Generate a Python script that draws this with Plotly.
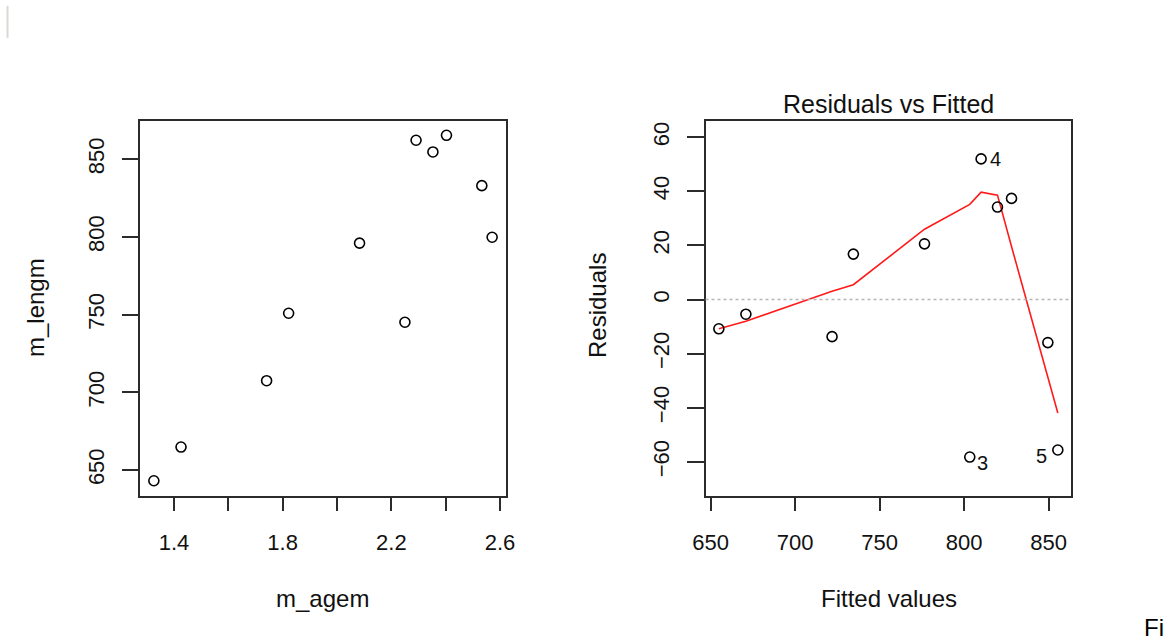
import plotly.graph_objects as go

# ---- data ----
agem = [1.326, 1.426, 1.741, 1.822, 2.083, 2.250, 2.291, 2.353, 2.403, 2.533, 2.571]
lengm = [643.1, 664.8, 707.5, 750.9, 796.0, 745.1, 862.2, 854.7, 865.4, 833.0, 799.8]

fitted = [654.9, 670.9, 721.9, 734.5, 776.6, 803.4, 810.1, 819.8, 828.1, 849.6, 855.5]
resid = [-10.8, -5.4, -13.7, 16.8, 20.6, -58.2, 52.0, 34.2, 37.4, -15.9, -55.6]
smooth = [-10.8, -8.0, 3.1, 5.5, 26.0, 35.2, 39.7, 38.6, 19.6, -29.0, -41.9]

# labelled observations
obs_labels = ["3", "4", "5"]
obs_fitted = [803.4, 810.1, 855.5]
obs_resid = [-58.2, 52.0, -55.6]

x1_ticks = [1.4, 1.6, 1.8, 2.0, 2.2, 2.4, 2.6]
x1_text = ["1.4", "", "1.8", "", "2.2", "", "2.6"]
y1_ticks = [650, 700, 750, 800, 850]
x2_ticks = [650, 700, 750, 800, 850]
y2_ticks = [-60, -40, -20, 0, 20, 40, 60]

W, H = 1175, 643
FONT = "Liberation Sans, Arial, sans-serif"
INK = "#111111"
AX = "#2b2b2b"


def px(x):
    return x / W


def py(y):
    return 1 - y / H


fig = go.Figure()

fig.add_trace(go.Scatter(
    x=agem, y=lengm, mode="markers", xaxis="x", yaxis="y",
    marker=dict(symbol="circle-open", size=10, color="black", line=dict(width=1.6)),
    showlegend=False, hoverinfo="x+y"))

fig.add_trace(go.Scatter(
    x=fitted, y=smooth, mode="lines", xaxis="x2", yaxis="y2",
    line=dict(color="#ff1a1a", width=1.6), showlegend=False))

fig.add_trace(go.Scatter(
    x=fitted, y=resid, mode="markers", xaxis="x2", yaxis="y2",
    marker=dict(symbol="circle-open", size=10, color="black", line=dict(width=1.6)),
    showlegend=False, hoverinfo="x+y"))

axis_common = dict(
    showgrid=False, zeroline=False, showline=True, mirror=True, automargin=False,
    linecolor=AX, linewidth=1.6, ticks="outside", tickcolor=AX, tickwidth=1.6,
    tickfont=dict(family=FONT, size=22, color=INK),
)

fig.update_layout(
    width=W, height=H,
    margin=dict(l=0, r=0, t=0, b=0, autoexpand=False),
    paper_bgcolor="white", plot_bgcolor="white",
    font=dict(family=FONT, color=INK),
    xaxis=dict(domain=[px(140), px(506)], range=[1.275, 2.622], anchor="y",
               tickmode="array", tickvals=x1_ticks, ticktext=x1_text,
               ticklen=13, ticklabelstandoff=13, **axis_common),
    yaxis=dict(domain=[py(496), py(121)], range=[633.3, 874.6], anchor="x",
               tickmode="array", tickvals=y1_ticks, tickangle=-90,
               ticklen=16, ticklabelstandoff=9, **axis_common),
    xaxis2=dict(domain=[px(705.5), px(1071)], range=[647.0, 863.3], anchor="y2",
                tickmode="array", tickvals=x2_ticks,
                ticklen=13, ticklabelstandoff=13, **axis_common),
    yaxis2=dict(domain=[py(496), py(121)], range=[-72.6, 66.0], anchor="x2",
                tickmode="array", tickvals=y2_ticks, tickangle=-90,
                ticklen=17, ticklabelstandoff=9, **axis_common),
)

# dotted zero reference line
fig.add_shape(type="line", xref="x2 domain", yref="y2", x0=0, x1=1, y0=0, y1=0,
              line=dict(color="#b5b5b5", width=1.5, dash="dot"))

# faint screenshot artefact at the top-left
fig.add_shape(type="line", xref="paper", yref="paper",
              x0=px(7.5), x1=px(7.5), y0=py(38), y1=py(6),
              line=dict(color="#dcd8d4", width=2))

annotations = [
    dict(text="Residuals vs Fitted", x=px(888), y=py(104), font=dict(size=25)),
    dict(text="m_agem", x=px(323), y=py(598), font=dict(size=24)),
    dict(text="Fitted values", x=px(888.5), y=py(598), font=dict(size=24)),
    dict(text="m_lengm", x=px(35), y=py(308), textangle=-90, font=dict(size=24)),
    dict(text="Residuals", x=px(597), y=py(306), textangle=-90, font=dict(size=24)),
]
for a in annotations:
    a.update(xref="paper", yref="paper", showarrow=False,
             xanchor="center", yanchor="middle")
    a["font"].update(family=FONT, color=INK)
    fig.add_annotation(**a)

# observation labels in the residual plot
shifts = {"3": (13, -6), "4": (14, 0), "5": (-16, -6)}
for lab, fx, rv in zip(obs_labels, obs_fitted, obs_resid):
    dx, dy = shifts[lab]
    fig.add_annotation(text=lab, x=fx, y=rv, xref="x2", yref="y2", showarrow=False,
                       xshift=dx, yshift=dy, xanchor="center", yanchor="middle",
                       font=dict(family=FONT, size=20, color=INK))

# caption fragment at the bottom right
fig.add_annotation(text="Fi", x=px(1142), y=0.0, xref="paper", yref="paper",
                   showarrow=False, xanchor="left", yanchor="bottom",
                   font=dict(family=FONT, size=24, color="#000000"))

# remove the default page margin so the figure sits at the window's top-left corner
fig.write_html(
    "out.html",
    config={"displayModeBar": False},
    post_script="document.body.style.margin='0';document.body.style.padding='0';",
)
